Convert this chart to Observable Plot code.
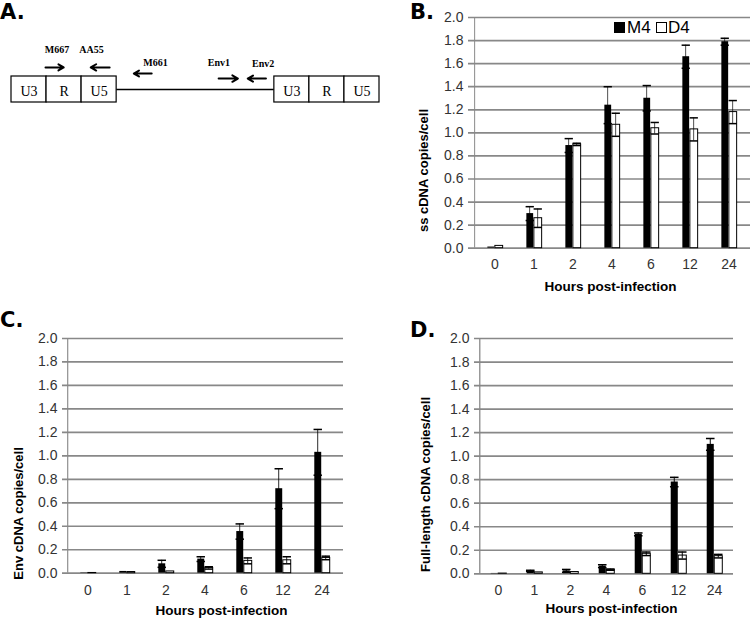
<!DOCTYPE html>
<html><head><meta charset="utf-8">
<script src="https://cdn.jsdelivr.net/npm/d3@7"></script>
<script src="https://cdn.jsdelivr.net/npm/@observablehq/plot@0.6"></script>
<style>
body{margin:0;background:#fff;}
#fig{position:relative;width:750px;height:618px;overflow:hidden;background:#fff;font-family:"Liberation Sans",Arial,sans-serif;}
.panel{position:absolute;}
.plabel{position:absolute;font-family:"DejaVu Sans",sans-serif;font-weight:bold;font-size:21px;line-height:1;color:#000;}
.leg{position:absolute;font-size:17px;line-height:1;color:#000;}
.sq{position:absolute;width:11px;height:11px;box-sizing:border-box;}
</style></head><body><div id="fig"></div>
<script>
// ---------- data ----------
const hours = ["0","1","2","4","6","12","24"];
const yTicks = [0,0.2,0.4,0.6,0.8,1.0,1.2,1.4,1.6,1.8,2.0];

// B: ss cDNA copies/cell
const ssM4    = [0.01, 0.30, 0.89, 1.24, 1.30, 1.66, 1.79];
const ssM4Err = [0.004,0.06, 0.06, 0.16, 0.11, 0.10, 0.03];
const ssD4    = [0.02, 0.26, 0.90, 1.07, 1.04, 1.03, 1.18];
const ssD4Err = [0.004,0.08, 0.01, 0.10, 0.05, 0.10, 0.10];

// C: Env cDNA copies/cell
const envM4    = [0.003,0.015,0.08, 0.12, 0.355,0.72, 1.03];
const envM4Err = [0,    0.003,0.03, 0.02, 0.065,0.17, 0.195];
const envD4    = [0.002,0.01, 0.015,0.045,0.105,0.11, 0.13];
const envD4Err = [0,    0,    0.003,0.01, 0.025,0.03, 0.015];

// D: Full-length cDNA copies/cell
const flM4    = [0.003,0.025,0.025,0.065,0.335,0.78, 1.10];
const flM4Err = [0,    0.005,0.012,0.012,0.012,0.04, 0.05];
const flD4    = [0.002,0.012,0.015,0.035,0.17, 0.155,0.15];
const flD4Err = [0,    0.002,0.003,0.005,0.015,0.03, 0.015];

// A: schematic (units = LTR sub-region widths)
const ltrLabels = ["U3","R","U5"];
const ltrStart = [0, 7.5];
const linkStart = 3, linkEnd = 7.5;
const primerNames = ["M667","AA55","M661","Env1","Env2"];
const primerTail  = [0.97, 2.80, 4.00, 5.91, 7.26];
const primerHead  = [1.49, 2.26, 3.49, 6.46, 6.74];
const primerRow   = [1.35, 1.35, 1.115, 0.92, 0.92];
const primerLabX  = [1.30, 2.28, 4.11, 5.92, 7.18];
const primerLabY  = [1.92, 1.92, 1.42, 1.385, 1.35];

const fig = document.getElementById("fig");
function place(el, left, top) { el.classList.add("panel"); el.style.left = left + "px"; el.style.top = top + "px"; fig.appendChild(el); }

// ---------- panel A ----------
const boxes = ltrStart.flatMap(s => ltrLabels.map((l, i) => ({x1: s + i, x2: s + i + 1, label: l})));
const primers = primerNames.map((n, i) => ({name: n, tail: primerTail[i], head: primerHead[i], row: primerRow[i], lx: primerLabX[i], ly: primerLabY[i]}));
const plotA = Plot.plot({
  width: 380, height: 200, margin: 0,
  x: {domain: [0, 10.5], range: [11, 379], axis: null},
  y: {domain: [0, 1], range: [102, 76], axis: null},
  style: {background: "transparent", overflow: "visible"},
  marks: [
    Plot.ruleY([0.5], {x1: linkStart, x2: linkEnd, stroke: "#000", strokeWidth: 1.6}),
    Plot.rect(boxes, {x1: "x1", x2: "x2", y1: 0, y2: 1, fill: "#fff", stroke: "#000", strokeWidth: 1.2}),
    Plot.text(boxes, {x: d => (d.x1 + d.x2) / 2, y: 0.5, text: "label", dy: 2, fontFamily: "'Liberation Serif', serif", fontSize: 14, fill: "#000"}),
    Plot.arrow(primers, {x1: "tail", x2: "head", y1: "row", y2: "row", stroke: "#000", strokeWidth: 2, headLength: 7}),
    Plot.text(primers, {x: "lx", y: "ly", text: "name", lineAnchor: "bottom", fontFamily: "'Liberation Serif', serif", fontWeight: "bold", fontSize: 10, fill: "#000"})
  ]
});
place(plotA, 0, 0);

// ---------- bar panels ----------
function barPanel(o) {
  const {m4, m4e, d4, d4e, width, height, ml, mr, mt, mb, yTitle, yDx, yDy, xDx, xDy, tickPad} = o;
  const rows = hours.map((h, i) => ({hour: h, m4: m4[i], m4e: m4e[i], d4: d4[i], d4e: d4e[i]}));
  const bw = (width - ml - mr) / hours.length;
  const c = bw / 2;
  const wB = 7.5, wW = 8.5;
  const cB = c - wB / 2, cW = c + wW / 2;   // bar centres relative to band start
  const stem = 1.4, cap = 9;
  const errM4 = rows.filter(d => d.m4e >= 0.005);
  const errD4 = rows.filter(d => d.d4e >= 0.005);
  const stemOpts = (cc) => ({insetLeft: cc - stem / 2, insetRight: bw - cc - stem / 2, fill: "#000"});
  const capOpts = (cc) => ({insetLeft: cc - cap / 2, insetRight: bw - cc - cap / 2, stroke: "#000", strokeWidth: 1.5});
  return Plot.plot({
    width, height, marginLeft: ml, marginRight: mr, marginTop: mt, marginBottom: mb,
    style: {background: "transparent", overflow: "visible", fontFamily: "'Liberation Sans', Arial, sans-serif", fontSize: "14px", color: "#333"},
    x: {domain: hours, range: [ml, width - mr], padding: 0, tickSize: 0, tickPadding: tickPad, label: null},
    y: {domain: [0, 2], ticks: yTicks, tickFormat: d => d.toFixed(1), tickSize: 0, tickPadding: 9, label: null},
    marks: [
      Plot.ruleY(yTicks, {stroke: "#888", strokeWidth: 1.7, insetLeft: -4}),
      Plot.barY([hours[0]], {x: d => d, y1: 0, y2: 2, fill: "#888", insetLeft: -0.85, insetRight: bw - 0.85}),
      Plot.barY(rows, {x: "hour", y: "m4", fill: "#000", insetLeft: c - wB, insetRight: c}),
      Plot.barY(rows, {x: "hour", y: "d4", fill: "#fff", stroke: "#000", strokeWidth: 1, insetLeft: c, insetRight: c - wW}),
      Plot.barY(errM4, {x: "hour", y1: d => d.m4 - d.m4e, y2: d => d.m4 + d.m4e, ...stemOpts(cB)}),
      Plot.tickY(errM4, {x: "hour", y: d => d.m4 + d.m4e, ...capOpts(cB)}),
      Plot.tickY(errM4, {x: "hour", y: d => d.m4 - d.m4e, ...capOpts(cB)}),
      Plot.barY(errD4, {x: "hour", y1: d => d.d4 - d.d4e, y2: d => d.d4 + d.d4e, ...stemOpts(cW)}),
      Plot.tickY(errD4, {x: "hour", y: d => d.d4 + d.d4e, ...capOpts(cW)}),
      Plot.tickY(errD4, {x: "hour", y: d => d.d4 - d.d4e, ...capOpts(cW)}),
      Plot.text([yTitle], {frameAnchor: "left", textAnchor: "middle", lineAnchor: "middle", rotate: -90, dx: yDx, dy: yDy, fontWeight: "bold", fontSize: 13, fill: "#000"}),
      Plot.text(["Hours post-infection"], {frameAnchor: "bottom", textAnchor: "middle", lineAnchor: "middle", dx: xDx, dy: xDy, fontWeight: "bold", fontSize: 13.5, fill: "#000"})
    ]
  });
}

const plotB = barPanel({m4: ssM4, m4e: ssM4Err, d4: ssD4, d4e: ssD4Err, width: 370, height: 300, ml: 92, mr: 0, mt: 17, mb: 52.3,
  yTitle: "ss cDNA copies/cell", yDx: -49, yDy: 37.7, xDx: -1, xDy: 38.3, tickPad: 10.5});
place(plotB, 380, 0);

const plotC = barPanel({m4: envM4, m4e: envM4Err, d4: envD4, d4e: envD4Err, width: 380, height: 318, ml: 66, mr: 37, mt: 38, mb: 45.3,
  yTitle: "Env cDNA copies/cell", yDx: -48, yDy: 57.6, xDx: 16.5, xDy: 37.3, tickPad: 11.5});
place(plotC, 0, 300);

const plotD = barPanel({m4: flM4, m4e: flM4Err, d4: flD4, d4e: flD4Err, width: 370, height: 318, ml: 98, mr: 17, mt: 38, mb: 44.7,
  yTitle: "Full-length cDNA copies/cell", yDx: -53, yDy: 28.3, xDx: 5.5, xDy: 35, tickPad: 11.5});
place(plotD, 380, 300);

// ---------- legend (panel B) ----------
function addDiv(cls, left, top, text, style) {
  const d = document.createElement("div"); d.className = cls; d.style.left = left + "px"; d.style.top = top + "px";
  if (text) d.textContent = text; if (style) Object.assign(d.style, style); fig.appendChild(d); return d;
}
addDiv("sq", 614, 22, null, {background: "#000"});
addDiv("leg", 627, 18.6, "M4");
addDiv("sq", 656, 22, null, {background: "#fff", border: "1px solid #000"});
addDiv("leg", 668, 18.6, "D4");

// ---------- panel letters ----------
addDiv("plabel", 0, 2, "A.");
addDiv("plabel", 410, 2, "B.");
addDiv("plabel", 0, 310, "C.");
addDiv("plabel", 410, 320, "D.");
</script></body></html>
